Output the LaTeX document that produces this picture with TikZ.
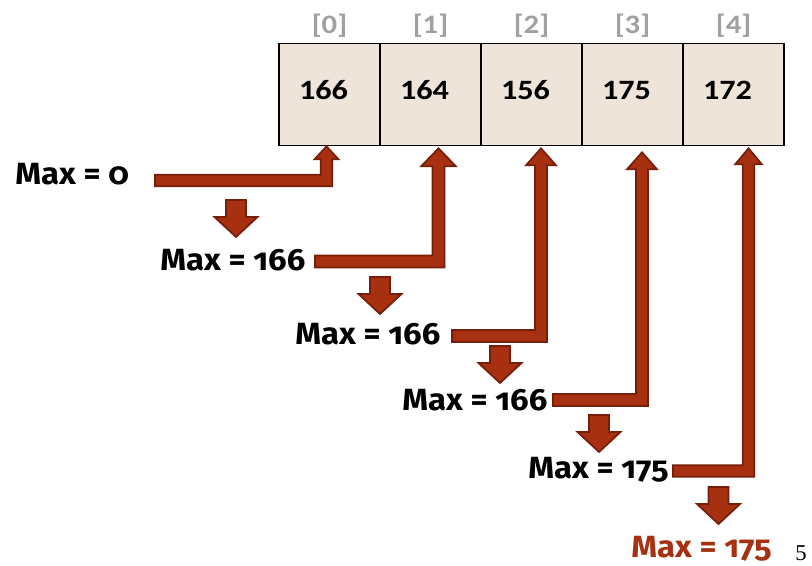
\documentclass[tikz,border=0pt]{standalone}
\usepackage{fontspec}
\usetikzlibrary{calc}
\newfontfamily\maxfont{Fira Sans}[Numbers=OldStyle, FakeStretch=1.07]
\newfontfamily\cellfont{Carlito}[FakeStretch=1.15]
\newfontfamily\pagefont{Liberation Serif}

\definecolor{rust}{RGB}{166,48,16}
\definecolor{rustdark}{RGB}{118,30,10}
\definecolor{cellbg}{RGB}{238,228,218}
\definecolor{idxgray}{RGB}{160,160,160}

% bent block arrow: horizontal bar from #1, then up to the tip at #2
% #3 half shaft width, #4 half head width, #5 head length
\newcommand\bentarrow[5]{%
  \filldraw[blockarrow] let \p1=(#1), \p2=(#2) in
    (\x1,\y1+#3) -- (\x2-#3,\y1+#3) -- (\x2-#3,\y2-#5) -- (\x2-#4,\y2-#5)
    -- (\x2,\y2) -- (\x2+#4,\y2-#5) -- (\x2+#3,\y2-#5) -- (\x2+#3,\y1-#3)
    -- (\x1,\y1-#3) -- cycle;}

\begin{document}
\begin{tikzpicture}[x=0.75pt,y=-0.75pt,
  cell/.style={draw=black, line width=0.9pt, fill=cellbg, rectangle,
    minimum width=101*0.75pt, minimum height=102*0.75pt, inner sep=0pt},
  num/.style={font=\cellfont\bfseries\fontsize{21}{24}\selectfont, anchor=base, inner sep=0pt},
  idx/.style={font=\cellfont\bfseries\fontsize{20}{24}\selectfont, text=idxgray, inner sep=0pt},
  maxlabel/.style={font=\maxfont\bfseries\fontsize{23}{27}\selectfont, anchor=base west, inner sep=0pt},
  blockarrow/.style={fill=rust, draw=rustdark, line width=1.3pt, line join=miter},
  pics/dropdown/.style={code={
    \filldraw[blockarrow] (-10,0) -- (10,0) -- (10,17) -- (21.5,17) -- (0,37)
      -- (-21.5,17) -- (-10,17) -- cycle;}}]
\useasboundingbox (0,0) rectangle (812,565);

% the array cells with their indices and values
\foreach \i/\v in {0/166,1/164,2/156,3/175,4/172}{
  \node[cell] (c\i) at (329.5+101*\i,94.7) {};
  \node[idx] (i\i) at (329.5+101*\i,26) {[\i]};
  \node[num] (n\i) at (323.5+101*\i,99.7) {\v};
}

% running maximum after each step
\node[maxlabel] (m0) at (15,184) {Max = 0};
\node[maxlabel] (m1) at (160,270) {Max = 166};
\node[maxlabel] (m2) at (295,344) {Max = 166};
\node[maxlabel] (m3) at (402,410) {Max = 166};
\node[maxlabel] (m4) at (528,478) {Max = 175};
\node[maxlabel, text=rust] (m5) at (631,557.5) {Max = 175};
\node[font=\pagefont\fontsize{17}{20}\selectfont, anchor=base west, inner sep=0pt] (pg) at (795,560) {5};

% start and tip points of the comparison arrows
\coordinate (s0) at (155,180.5);   \coordinate (t0) at ([xshift=-3*0.75pt,yshift=0pt]c0.south);
\coordinate (s1) at (315,261.5);   \coordinate (t1) at ([xshift=8*0.75pt,yshift=-2*0.75pt]c1.south);
\coordinate (s2) at (452,336);     \coordinate (t2) at ([xshift=9.5*0.75pt,yshift=-2*0.75pt]c2.south);
\coordinate (s3) at (553,400);     \coordinate (t3) at ([xshift=9.5*0.75pt,yshift=-6*0.75pt]c3.south);
\coordinate (s4) at (673,471);     \coordinate (t4) at ([xshift=15*0.75pt,yshift=-2*0.75pt]c4.south);

\bentarrow{s0}{t0}{4.3pt}{9pt}{9.75pt}
\bentarrow{s1}{t1}{4.5pt}{13pt}{13.5pt}
\bentarrow{s2}{t2}{4.5pt}{11.25pt}{12.75pt}
\bentarrow{s3}{t3}{4.5pt}{11.25pt}{12.75pt}
\bentarrow{s4}{t4}{4.3pt}{10pt}{12pt}

% downward steps between successive maxima
\pic at (236,200) {dropdown};
\pic at (380,277) {dropdown};
\pic at (500,346) {dropdown};
\pic at (599,415) {dropdown};
\pic at (718.5,487) {dropdown};
\end{tikzpicture}
\end{document}
